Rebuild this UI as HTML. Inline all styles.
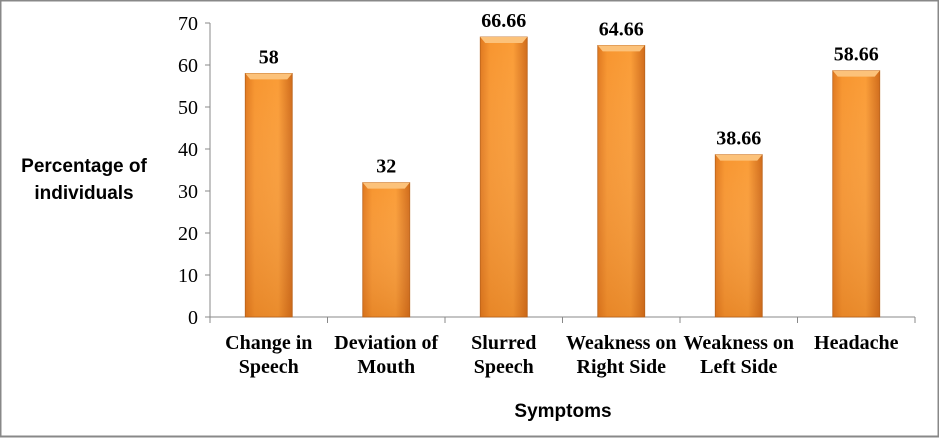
<!DOCTYPE html>
<html><head><meta charset="utf-8"><style>
body{margin:0;background:#fff}
svg{display:block}
text{font-family:"Liberation Serif",serif}
</style></head><body>
<svg id="c" width="939" height="438">
<defs>
<linearGradient id="g" x1="0" x2="1" y1="0" y2="0">
<stop offset="0" stop-color="#e0781e"/><stop offset="0.2" stop-color="#f7952f"/><stop offset="0.7" stop-color="#fa9c36"/><stop offset="1" stop-color="#d06b1a"/>
</linearGradient>
<linearGradient id="gv" x1="0" x2="0" y1="0" y2="1">
<stop offset="0" stop-color="#fff" stop-opacity="0"/><stop offset="1" stop-color="#b85a10" stop-opacity="0.25"/>
</linearGradient>
</defs>
<rect x="0.5" y="0.5" width="938" height="436" fill="#fff" stroke="#888" stroke-width="2"/>
<text x="84" y="172" font-size="19" font-weight="bold" text-anchor="middle" style="font-family:'Liberation Sans Narrow','Liberation Sans',sans-serif"><tspan x="84">Percentage of</tspan><tspan x="84" dy="27">individuals</tspan></text>
<text x="563" y="417" font-size="19" font-weight="bold" text-anchor="middle" style="font-family:'Liberation Sans Narrow','Liberation Sans',sans-serif">Symptoms</text>
<g id="plot"></g>
</svg>
<script>
const categories=[["Change in","Speech"],["Deviation of","Mouth"],["Slurred","Speech"],["Weakness on","Right Side"],["Weakness on","Left Side"],["Headache",""]];
const values=[58,32,66.66,64.66,38.66,58.66];
const valueLabels=["58","32","66.66","64.66","38.66","58.66"];
const yTicks=[0,10,20,30,40,50,60,70];
const NS="http://www.w3.org/2000/svg";
const g=document.getElementById('plot');
const x0=210,x1=915,y0=317,yTop=23,yMax=70;
const band=(x1-x0)/categories.length;
const y=v=>y0-(v/yMax)*(y0-yTop);
const xc=i=>x0+band*(i+0.5);
function mk(t,a){const e=document.createElementNS(NS,t);for(const k in a)e.setAttribute(k,a[k]);g.appendChild(e);return e;}
let ax=mk('line',{x1:x0,y1:yTop,x2:x0,y2:y0,stroke:'#888'});


let bx=mk('line',{x1:x0,y1:y0,x2:x1,y2:y0,stroke:'#888'});


yTicks.forEach(v=>{
 let l=mk('line',{x1:x0-5,y1:y(v),x2:x0,y2:y(v),stroke:'#888'});
 
 
 let t=mk('text',{x:x0-12,y:y(v)+7,'font-size':20,'text-anchor':'end'});t.textContent=v;
 
 
});
for(let i=0;i<=categories.length;i++){
 let l=mk('line',{x1:x0+band*i,y1:y0,x2:x0+band*i,y2:y0+6,stroke:'#888'});
 
 
}
const bw=47;
values.forEach((v,i)=>{
 const cx=xc(i);
 let r=mk('rect',{x:cx-bw/2,y:y(v),width:bw,height:y0-y(v),fill:'url(#g)',stroke:'#b8611a','stroke-width':0.8});
 
 
 let s=mk('rect',{x:cx-bw/2,y:y(v),width:bw,height:y0-y(v),fill:'url(#gv)'});
 
 
 let h=mk('polygon',{points:`${cx-bw/2},${y(v)} ${cx+bw/2},${y(v)} ${cx+bw/2-5},${y(v)+6} ${cx-bw/2+5},${y(v)+6}`,fill:'#fcc27a'});
 
 
 let t=mk('text',{x:cx,y:y(v)-10,'font-size':20,'font-weight':'bold','text-anchor':'middle'});t.textContent=valueLabels[i];
 
 
 let c=mk('text',{x:cx,y:349,'font-size':20,'font-weight':'bold','text-anchor':'middle'});
 const a=document.createElementNS(NS,'tspan');a.setAttribute('x',cx);a.textContent=categories[i][0];c.appendChild(a);
 const b=document.createElementNS(NS,'tspan');b.setAttribute('x',cx);b.setAttribute('dy','24');b.textContent=categories[i][1];c.appendChild(b);
 
 
});
</script>
</body></html>
